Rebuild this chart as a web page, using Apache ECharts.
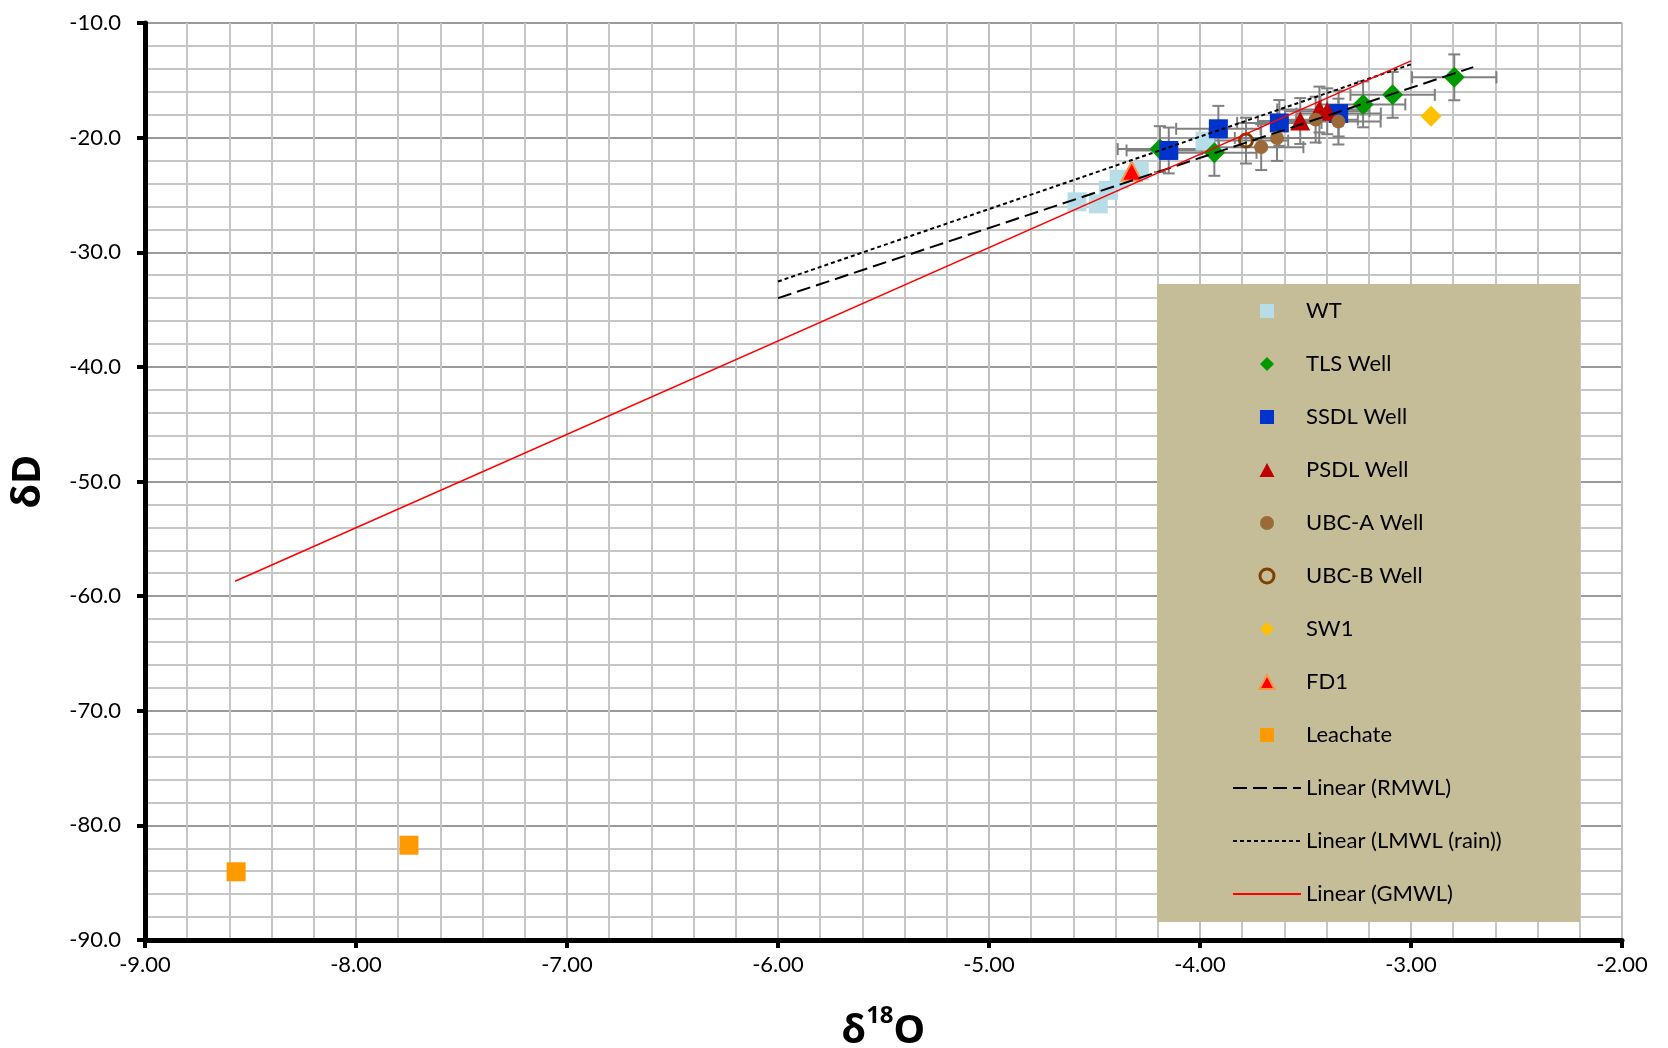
<!DOCTYPE html>
<html>
<head>
<meta charset="utf-8">
<script src="https://cdn.jsdelivr.net/npm/echarts@6/dist/echarts.min.js"></script>
<style>html,body{margin:0;padding:0;background:#fff}#c{width:1668px;height:1048px}</style>
</head>
<body>
<div id="c"></div>
<script>
// ---- data (δ18O, δD) ----
const wt       = [[-4.583,-25.6],[-4.482,-25.78],[-4.434,-24.6],[-4.383,-23.63],[-4.288,-22.9],[-3.976,-20.3]];
const tls      = [[-4.19,-21.0],[-3.932,-21.33],[-3.227,-17.1],[-3.087,-16.27],[-2.795,-14.74]];
const ssdl     = [[-4.148,-21.12],[-3.913,-19.23],[-3.624,-18.72],[-3.343,-17.9]];
const psdl     = [[-3.525,-18.55],[-3.434,-17.55],[-3.397,-17.7]];
const ubcA     = [[-3.71,-20.83],[-3.635,-20.03],[-3.452,-18.43],[-3.344,-18.6]];
const ubcB     = [[-3.782,-20.26]];
const sw1      = [[-2.905,-18.14]];
const fd1      = [[-4.324,-22.94]];
const leachate = [[-8.568,-84.05],[-7.749,-81.73]];

// error bar half-widths (δ18O, δD) for the well series
const wellErr = [0.2, 2.0];

// trendline end points
const rmwl = [[-6.0,-34.0],[-2.705,-13.85]];
const lmwl = [[-6.0,-32.55],[-3.0,-13.6]];
const gmwl = [[-8.573,-58.7],[-3.0,-13.3]];

// axis ticks
const xRange = {min:-9, max:-2, step:1};
const yRange = {min:-90, max:-10, step:10};

const names = ['WT','TLS Well','SSDL Well','PSDL Well','UBC-A Well','UBC-B Well','SW1','FD1','Leachate',
               'Linear (RMWL)','Linear (LMWL (rain))','Linear (GMWL)'];

// build error-bar data
const errData = [];
[tls, ssdl, psdl, ubcA, ubcB].forEach(arr => arr.forEach(p => errData.push([p[0], p[1], wellErr[0], wellErr[1]])));

function renderErr(params, api) {
  const x = api.value(0), y = api.value(1), xe = api.value(2), ye = api.value(3);
  const l = api.coord([x - xe, y]), r = api.coord([x + xe, y]);
  const t = api.coord([x, y + ye]), b = api.coord([x, y - ye]);
  const cap = 6;
  const st = {stroke:'#808080', lineWidth:2};
  return {type:'group', children:[
    {type:'line', shape:{x1:l[0],y1:l[1],x2:r[0],y2:r[1]}, style:st},
    {type:'line', shape:{x1:t[0],y1:t[1],x2:b[0],y2:b[1]}, style:st},
    {type:'line', shape:{x1:l[0],y1:l[1]-cap,x2:l[0],y2:l[1]+cap}, style:st},
    {type:'line', shape:{x1:r[0],y1:r[1]-cap,x2:r[0],y2:r[1]+cap}, style:st},
    {type:'line', shape:{x1:t[0]-cap,y1:t[1],x2:t[0]+cap,y2:t[1]}, style:st},
    {type:'line', shape:{x1:b[0]-cap,y1:b[1],x2:b[0]+cap,y2:b[1]}, style:st}
  ]};
}

const SQ = 'path://M0,0L14,0L14,14L0,14Z';
const DIA = 'path://M7,0L14,7L7,14L0,7Z';
const TRI = 'path://M7,0L14,13L0,13Z';
const CIRC = 'path://M7,0A7,7,0,1,1,7,14A7,7,0,1,1,7,0Z';
const NOSYM = {color:'rgba(0,0,0,0)', borderWidth:0, opacity:0};

function sc(name, data, symbol, size, style, z) {
  return {type:'scatter', name, data, symbol, symbolSize:size, itemStyle:Object.assign({opacity:1}, style), z:z||2,
          emphasis:{disabled:true}, silent:true};
}
function ln(name, data, color, type, width) {
  return {type:'line', name, data, symbol:'none', showSymbol:false, z:3, silent:true,
          lineStyle:{color, type, width}, itemStyle:{color}, emphasis:{disabled:true}};
}

const font = 'Lato, "Noto Sans", sans-serif';
const chart = echarts.init(document.getElementById('c'), null, {renderer:'canvas'});
chart.setOption({
  animation:false,
  backgroundColor:'#fff',
  grid:{left:145, top:23, right:46, bottom:108, containLabel:false, outerBoundsMode:'none'},
  xAxis:{
    type:'value', min:xRange.min, max:xRange.max, interval:xRange.step,
    axisLine:{show:true, onZero:false, lineStyle:{color:'#000', width:5}},
    axisTick:{show:true, inside:false, length:8, lineStyle:{color:'#000', width:4}},
    axisLabel:{formatter:v=>v.toFixed(2), fontSize:22, fontFamily:font, color:'#000', margin:14},
    splitLine:{show:true, lineStyle:{color:'#BFBFBF', width:2}},
    minorTick:{show:false, splitNumber:5},
    minorSplitLine:{show:true, lineStyle:{color:'#C6C6C6', width:2}},
    name:'{d|δ}{s|18}{d|O}', nameLocation:'middle', nameGap:62,
    nameTextStyle:{rich:{
      d:{fontSize:40, fontWeight:'bold', fontFamily:'"Noto Sans", sans-serif', color:'#000', lineHeight:50, verticalAlign:'bottom'},
      s:{fontSize:24, fontWeight:'bold', fontFamily:'"Noto Sans", sans-serif', color:'#000', lineHeight:50, verticalAlign:'top', padding:[2,0,0,0]}
    }}
  },
  yAxis:{
    type:'value', min:yRange.min, max:yRange.max, interval:yRange.step,
    axisLine:{show:true, onZero:false, lineStyle:{color:'#000', width:5}},
    axisTick:{show:true, inside:false, length:8, lineStyle:{color:'#000', width:4}},
    axisLabel:{formatter:v=>v.toFixed(1), fontSize:22, fontFamily:font, color:'#000', margin:24},
    splitLine:{show:true, lineStyle:{color:'#9A9A9A', width:2}},
    minorTick:{show:false, splitNumber:5},
    minorSplitLine:{show:true, lineStyle:{color:'#C6C6C6', width:2}},
    name:'δD', nameLocation:'middle', nameGap:96, nameRotate:90,
    nameTextStyle:{fontSize:40, fontWeight:'bold', fontFamily:'"Noto Sans", sans-serif', color:'#000'}
  },
  graphic:[{type:'rect', left:1157, top:284, z:3, silent:true,
            shape:{width:423, height:638}, style:{fill:'#C4BD97'}}],
  legend:{
    show:true, orient:'vertical', left:1232, top:300, padding:0, itemGap:31,
    itemWidth:68, itemHeight:14, selectedMode:false, symbolKeepAspect:true,
    textStyle:{fontSize:22, fontFamily:font, color:'#000', lineHeight:22},
    data:[
      {name:names[0], icon:SQ},
      {name:names[1], icon:DIA},
      {name:names[2], icon:SQ},
      {name:names[3], icon:TRI},
      {name:names[4], icon:CIRC},
      {name:names[5], icon:CIRC, itemStyle:{color:'rgba(0,0,0,0)', borderColor:'#7F3F00', borderWidth:3}},
      {name:names[6], icon:DIA},
      {name:names[7], icon:TRI, itemStyle:{color:'#FF0000', borderColor:'#F79646', borderWidth:2}},
      {name:names[8], icon:SQ},
      {name:names[9], itemStyle:NOSYM},
      {name:names[10], itemStyle:NOSYM},
      {name:names[11], itemStyle:NOSYM}
    ]
  },
  series:[
    {type:'custom', name:'err', data:errData, renderItem:renderErr, z:1, silent:true,
     encode:{x:0, y:1}, clip:false},
    sc(names[0], wt, 'rect', 19, {color:'#B7DEE8'}),
    sc(names[1], tls, 'diamond', 21, {color:'#009900'}),
    sc(names[2], ssdl, 'rect', 19, {color:'#0033CC'}),
    sc(names[3], psdl, 'triangle', [20,19], {color:'#C00000'}),
    sc(names[4], ubcA, 'circle', 14, {color:'#9C6A38'}),
    sc(names[5], ubcB, 'circle', 13, {color:'rgba(0,0,0,0)', borderColor:'#7F3F00', borderWidth:3}),
    sc(names[6], sw1, 'diamond', 21, {color:'#FFC000'}),
    sc(names[7], fd1, 'triangle', [20,19], {color:'#FF0000', borderColor:'#F79646', borderWidth:2}),
    sc(names[8], leachate, 'rect', 19, {color:'#FF9900'}),
    ln(names[9], rmwl, '#000', [14,6], 2),
    ln(names[10], lmwl, '#000', [4,3], 2),
    ln(names[11], gmwl, '#FF0000', 'solid', 1.5)
  ]
});
</script>
</body>
</html>
